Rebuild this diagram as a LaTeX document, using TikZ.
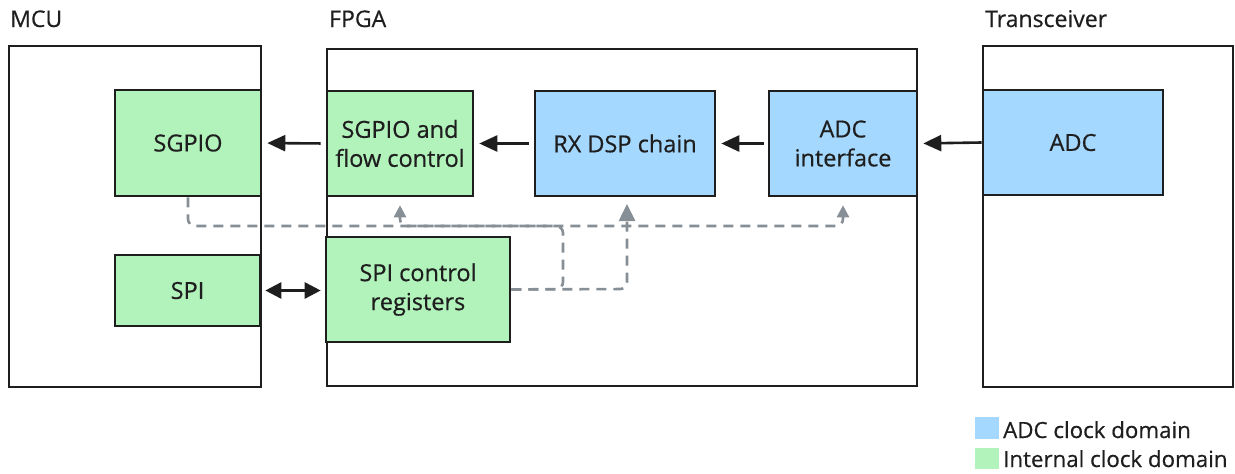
\documentclass[tikz,border=0pt]{standalone}
\usepackage{fontspec}
\setmainfont{Open Sans}[FakeBold=0.5]
\usetikzlibrary{arrows.meta}
\definecolor{ink}{HTML}{1E1E1E}
\definecolor{grn}{HTML}{B2F2BB}
\definecolor{blu}{HTML}{A5D8FF}
\definecolor{gry}{HTML}{868E96}
\tikzset{
  box/.style={draw=ink, line width=2.6pt, inner sep=0pt, align=center, text=ink,
    font=\fontsize{23.5}{29}\selectfont},
  gbox/.style={box, fill=grn},
  bbox/.style={box, fill=blu},
  cont/.style={draw=ink, line width=2.4pt},
  title/.style={anchor=base west, inner sep=0pt, text=ink, font=\fontsize{23}{29}\selectfont},
  flow/.style={draw=ink, line width=2.6pt, -{Triangle[length=18pt,width=16pt]}},
  ctl/.style={draw=gry, line width=2.6pt, dash pattern=on 10pt off 7pt, rounded corners=7pt},
  smallhead/.style={-{Triangle[length=12pt,width=12pt]}},
  bighead/.style={-{Triangle[length=17pt,width=16pt]}},
  leg/.style={anchor=base west, inner sep=0pt, text=ink, font=\fontsize{22.3}{29}\selectfont}
}
\begin{document}
\begin{tikzpicture}[x=1pt,y=-1pt]
\useasboundingbox (0,0) rectangle (1235,474);
% containers
\draw[cont] (9,46) rectangle (261,387);
\draw[cont] (327,49) rectangle (917,386);
\draw[cont] (983,46) rectangle (1233,387);
\node[title] (tmcu) at (10,27) {MCU};
\node[title] (tfpga) at (329,27) {FPGA};
\node[title] (ttrx) at (985,27) {Transceiver};
% blocks
\node[gbox, minimum width=146pt, minimum height=106pt] (sgpio) at (188,143) {SGPIO};
\node[gbox, minimum width=146pt, minimum height=105pt] (sgfc) at (400,143.5) {SGPIO and\\flow control};
\node[bbox, minimum width=180pt, minimum height=105pt] (rx) at (625,143.5) {RX DSP chain};
\node[bbox, minimum width=148pt, minimum height=105pt] (adcif) at (843,143.5) {ADC\\interface};
\node[bbox, minimum width=180pt, minimum height=105pt] (adc) at (1073,142.5) {ADC};
\node[gbox, minimum width=145pt, minimum height=71pt] (spi) at (187.5,290.5) {SPI};
\node[gbox, minimum width=184pt, minimum height=105pt] (spic) at (418,289.5) {SPI control\\registers};
% data flow
\draw[flow, shorten >=5pt, shorten <=5pt] (sgfc.west) -- (sgpio.east);
\draw[flow, shorten >=5pt, shorten <=5pt] (rx.west) -- (sgfc.east);
\draw[flow, shorten >=5pt, shorten <=4pt] (adcif.west) -- (rx.east);
\draw[flow, shorten >=5pt] (adc.west) -- (adcif.east);
\draw[draw=ink, line width=2.6pt, {Triangle[length=16pt,width=16pt]}-{Triangle[length=16pt,width=16pt]}, shorten >=4pt, shorten <=4pt] (spi.east) -- (spic.west |- spi.east);
% control (dashed)
\coordinate (cA) at (188,226);
\coordinate (cB) at (563,226);
\draw[ctl, smallhead, shorten >=8pt] (sgpio.south) -- (cA) -- (cA -| adcif.south) -- (adcif.south);
\draw[ctl, smallhead, shorten >=8pt] (spic.east) -- (563,289) -- (cB) -- (cB -| sgfc.south) -- (sgfc.south);
\draw[ctl, bighead, shorten >=8pt] (spic.east) -- (627,289) -- (627,196);
% legend
\fill[blu] (975,417) rectangle (999,439);
\fill[grn] (975,448) rectangle (999,469);
\node[leg] (l1) at (1003,438) {ADC clock domain};
\node[leg] (l2) at (1003,467) {Internal clock domain};
\end{tikzpicture}
\end{document}
